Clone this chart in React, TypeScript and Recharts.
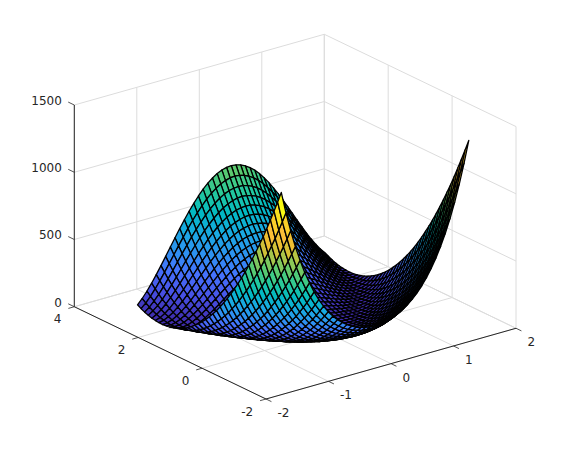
import React from "react";
import { ScatterChart, Scatter, XAxis, YAxis } from "recharts";

const xValues = [-1.5,-1.425,-1.35,-1.275,-1.2,-1.125,-1.05,-0.975,-0.9,-0.825,-0.75,-0.675,-0.6,-0.525,-0.45,-0.375,-0.3,-0.225,-0.15,-0.075,0,0.075,0.15,0.225,0.3,0.375,0.45,0.525,0.6,0.675,0.75,0.825,0.9,0.975,1.05,1.125,1.2,1.275,1.35,1.425,1.5];
const yValues = [-1.5,-1.3875,-1.275,-1.1625,-1.05,-0.9375,-0.825,-0.7125,-0.6,-0.4875,-0.375,-0.2625,-0.15,-0.0375,0.075,0.1875,0.3,0.4125,0.525,0.6375,0.75,0.8625,0.975,1.0875,1.2,1.3125,1.425,1.5375,1.65,1.7625,1.875,1.9875,2.1,2.2125,2.325,2.4375,2.55,2.6625,2.775,2.8875,3];

// surface heights: one row per x value, one column per y value
const zRows = [
[1413,1329,1249,1171,1095,1022,952,884,819,756,695,638,582,530,479,432,387,344,304,266,231,199,169,141,117,94,74,57,42,30,20,13,9,6,7,10,15,23,34,47,63],
[1252,1174,1099,1025,955,887,821,758,698,640,585,532,481,434,388,346,305,268,233,200,170,142,117,95,75,57,43,30,20,13,8,6,6,9,15,22,33,46,61,79,100],
[1109,1036,965,897,831,767,706,648,592,539,488,440,395,352,311,273,237,204,174,146,121,98,77,60,44,32,21,14,9,6,6,8,13,21,31,43,58,76,96,119,144],
[982,913,847,783,721,662,606,552,501,452,406,362,321,282,246,212,181,152,126,103,82,63,48,34,23,15,9,6,5,7,11,18,28,40,54,71,91,113,137,164,194],
[869,804,742,682,625,570,518,468,421,376,334,295,258,223,191,162,135,110,89,69,52,38,26,17,11,6,5,6,9,15,24,35,48,65,83,104,128,154,183,214,248],
[769,708,650,594,541,490,442,396,353,312,274,238,205,174,146,121,98,77,59,44,31,21,13,8,5,5,7,12,19,29,42,57,74,94,117,142,170,200,232,268,305],
[682,624,570,517,468,420,376,334,294,257,223,191,161,134,110,88,69,52,38,26,17,10,6,4,5,9,15,23,34,48,64,83,104,127,154,182,214,248,284,323,364],
[605,551,499,451,404,360,319,281,244,211,180,151,125,102,81,62,46,33,22,14,8,5,4,6,10,17,26,38,53,70,89,111,136,163,193,225,260,297,337,379,424],
[537,487,438,393,350,309,271,235,202,172,144,119,96,75,58,42,30,19,12,7,4,4,6,11,19,29,41,57,74,94,117,142,170,200,233,268,306,347,390,435,483],
[479,431,386,343,303,265,230,197,167,140,115,92,72,55,40,28,18,11,6,4,4,7,12,20,30,43,59,77,97,120,146,174,205,238,274,312,353,396,442,490,541],
[428,383,341,301,263,228,196,166,138,113,91,71,54,39,27,17,10,5,3,4,7,12,20,31,44,59,77,98,121,147,175,206,239,275,314,355,398,444,493,544,597],
[385,342,302,265,229,197,167,139,114,92,72,54,39,27,17,10,5,3,3,6,12,19,30,43,58,76,97,120,145,174,204,237,273,312,352,396,441,490,541,594,650],
[349,308,270,234,201,171,143,118,95,74,57,41,29,18,11,6,3,3,5,10,18,28,40,55,73,93,116,141,169,199,232,267,305,346,389,434,482,533,586,641,699],
[318,279,243,209,178,150,123,100,79,61,45,31,20,12,6,3,2,4,9,15,25,37,51,68,88,110,134,162,191,223,258,295,335,377,422,470,520,572,627,684,744],
[292,255,220,188,159,132,108,86,67,50,36,24,15,8,4,2,3,7,13,21,32,46,62,80,102,125,152,180,212,245,282,321,362,406,453,502,553,607,664,723,785],
[271,235,202,172,144,118,95,75,57,41,29,18,10,5,2,2,5,9,17,27,39,54,72,92,114,139,167,197,230,265,303,343,386,431,479,530,582,638,696,757,820],
[254,220,188,159,132,107,85,66,49,35,23,14,7,3,2,3,6,12,21,32,45,61,80,101,125,151,180,211,245,281,320,362,406,452,501,553,607,663,723,784,848],
[242,208,177,149,123,99,78,60,44,31,20,11,6,2,2,3,8,15,24,36,50,67,87,109,134,161,190,223,257,295,334,377,421,469,519,571,626,684,744,806,871],
[233,200,170,142,116,94,73,55,40,27,17,9,4,2,2,4,9,17,27,39,54,72,92,115,140,168,198,231,266,304,344,387,433,481,531,584,640,698,759,822,888],
[228,195,165,138,113,90,70,53,38,25,16,8,4,1,2,4,10,18,28,41,57,75,95,118,144,172,203,236,272,310,351,394,440,488,539,593,648,707,768,832,898],
[226,194,164,136,111,89,69,52,37,25,15,8,3,1,2,5,10,18,29,42,57,75,96,119,145,173,204,237,273,312,353,396,442,491,542,595,651,710,771,835,901],
[228,195,165,137,112,90,70,52,38,25,15,8,3,1,1,4,10,17,28,41,56,74,95,118,144,172,202,236,271,310,350,394,440,488,539,592,648,707,768,831,897],
[233,199,169,141,116,93,73,55,40,27,17,9,4,1,1,3,9,16,26,38,53,71,91,114,139,167,197,230,265,303,344,387,432,480,531,584,639,697,758,821,887],
[241,207,176,148,122,98,77,59,43,30,19,10,5,1,1,3,7,14,23,35,50,67,86,108,133,160,190,222,256,294,333,376,421,468,518,570,625,683,743,805,870],
[253,219,187,157,130,106,84,65,48,34,22,13,6,2,0,1,5,11,19,30,44,60,79,100,124,150,179,210,244,280,319,360,404,451,500,551,606,662,721,783,847],
[270,234,201,170,142,117,94,73,55,40,27,17,9,4,1,1,3,8,15,25,38,53,70,90,113,138,165,196,228,263,301,342,384,430,478,528,581,636,694,755,818],
[290,253,219,187,157,130,106,84,65,48,34,22,13,6,2,0,1,5,11,19,30,44,60,79,100,124,150,179,210,244,280,319,360,404,451,500,551,605,662,721,783],
[316,277,241,207,176,147,121,98,77,58,42,29,18,10,4,1,0,2,6,13,23,35,49,66,86,108,132,159,189,221,256,293,333,375,420,468,517,570,625,682,742],
[346,306,267,232,199,168,141,115,92,72,54,39,26,16,8,3,1,0,3,8,15,25,38,53,71,91,114,139,167,197,230,265,303,343,386,432,480,530,583,639,697],
[382,340,300,262,227,194,164,136,111,89,69,52,37,24,15,7,2,0,1,3,9,17,27,40,55,73,94,117,143,171,202,235,270,309,350,393,439,487,538,592,647],
[425,380,338,298,260,225,193,163,135,110,88,68,51,36,24,14,7,2,0,1,4,9,17,28,41,56,74,95,118,144,172,203,236,272,311,352,395,441,490,541,594],
[476,428,382,340,300,262,227,194,164,136,111,89,69,52,37,24,15,7,2,0,1,3,9,17,27,40,55,73,94,117,143,171,202,235,270,309,350,393,439,487,538],
[534,483,435,389,346,305,267,232,199,168,140,115,92,72,54,39,26,16,8,3,0,0,3,8,15,25,38,53,71,91,113,139,166,197,230,265,303,343,386,432,480],
[601,547,495,447,400,357,315,277,240,207,176,147,121,98,77,58,42,29,18,10,4,1,0,2,6,13,23,34,49,66,85,108,132,159,189,221,256,293,333,375,420],
[677,620,565,513,463,416,372,329,290,253,218,186,157,130,106,84,64,48,33,22,12,6,2,0,1,4,10,19,30,44,60,78,100,123,149,178,210,243,280,319,360],
[765,704,646,590,536,485,437,391,348,307,269,234,200,170,142,116,93,73,55,40,27,16,9,3,1,0,3,7,15,25,37,52,70,90,112,137,165,195,228,263,301],
[864,800,737,677,620,565,513,463,416,372,329,290,253,218,186,157,130,106,84,64,48,33,22,12,6,2,0,1,4,10,19,30,44,60,78,100,123,149,178,210,243],
[977,908,841,777,716,657,601,547,495,447,400,357,315,277,241,207,176,147,121,98,77,58,42,29,18,10,4,1,0,2,6,13,23,35,49,66,85,108,132,159,189],
[1104,1031,960,891,825,762,701,643,587,534,483,435,389,346,306,267,232,199,169,141,115,92,72,54,39,26,16,8,3,1,0,3,8,15,25,38,53,71,91,114,139],
[1247,1169,1093,1020,949,881,816,753,692,634,579,526,476,428,383,340,300,262,227,194,164,137,112,89,69,52,37,24,15,7,3,0,1,3,9,17,27,40,56,74,94],
[1406,1323,1243,1165,1089,1016,946,878,812,749,689,631,576,523,473,425,380,338,298,260,225,193,163,135,110,88,68,51,36,24,14,7,2,0,1,4,9,17,28,41,56],
];

const xTicks = [-2, -1, 0, 1, 2];
const yTicks = [-2, 0, 2, 4];
const zTicks = [0, 500, 1000, 1500];
const colorStops = ["#3e2aa8","#4751e5","#4672fd","#2d92f0","#1aa9e2","#01b8c3","#24c99d","#57ca72","#9dc750","#e6bd2d","#fcbf38","#f8d621","#f9fb15"];

const WIDTH = 570;
const HEIGHT = 450;
const X_MIN = -2, X_MAX = 2, Y_MIN = -2, Y_MAX = 4, Z_MIN = 0, Z_MAX = 1500;
const Z_LIMIT = 1413;

type Pt = { x: number; y: number };

// orthographic view of the 3-D box, expressed in the chart's plane
function project(x: number, y: number, z: number): Pt {
  return {
    x: 266 + 62.5 * (x - X_MIN) - 31.95 * (y - Y_MIN),
    y: 399 - 17.68 * (x - X_MIN) - 15.38 * (y - Y_MIN) - 0.13447 * z,
  };
}
function nearness(x: number, y: number, z: number) {
  return -0.566 * (x - X_MIN) / 4 - 0.737 * (y - Y_MIN) / 6 + 0.254 * z / 1500;
}
function parula(z: number) {
  const t = Math.min(1, Math.max(0, z / Z_LIMIT)) * (colorStops.length - 1);
  const a = Math.floor(t);
  const b = Math.min(colorStops.length - 1, a + 1);
  const f = t - a;
  const c = (h: string, i: number) => parseInt(h.slice(1 + 2 * i, 3 + 2 * i), 16);
  const m = (i: number) => Math.round(c(colorStops[a], i) * (1 - f) + c(colorStops[b], i) * f);
  return `rgb(${m(0)},${m(1)},${m(2)})`;
}

type Poly = { x: number; y: number; rest: Pt[]; fill?: string; stroke: string; sw: number };

function seg(a: Pt, b: Pt, stroke: string, sw: number): Poly {
  return { x: a.x, y: a.y, rest: [{ x: b.x - a.x, y: b.y - a.y }], stroke, sw };
}

const GRID = "#dcdcdc";
const AXIS = "#262626";

const gridSegs: Poly[] = [];
for (const x of xTicks) {
  gridSegs.push(seg(project(x, Y_MIN, 0), project(x, Y_MAX, 0), GRID, 1));
  gridSegs.push(seg(project(x, Y_MAX, Z_MIN), project(x, Y_MAX, Z_MAX), GRID, 1));
}
for (const y of yTicks) {
  gridSegs.push(seg(project(X_MIN, y, 0), project(X_MAX, y, 0), GRID, 1));
  gridSegs.push(seg(project(X_MAX, y, Z_MIN), project(X_MAX, y, Z_MAX), GRID, 1));
}
for (const z of zTicks) {
  gridSegs.push(seg(project(X_MIN, Y_MAX, z), project(X_MAX, Y_MAX, z), GRID, 1));
  gridSegs.push(seg(project(X_MAX, Y_MAX, z), project(X_MAX, Y_MIN, z), GRID, 1));
}

const axisSegs: Poly[] = [
  seg(project(X_MIN, Y_MAX, Z_MIN), project(X_MIN, Y_MAX, Z_MAX), AXIS, 1),
  seg(project(X_MIN, Y_MIN, 0), project(X_MIN, Y_MAX, 0), AXIS, 1),
  seg(project(X_MIN, Y_MIN, 0), project(X_MAX, Y_MIN, 0), AXIS, 1),
];
for (const x of xTicks) axisSegs.push(seg(project(x, Y_MIN, 0), project(x, Y_MIN - 0.17, 0), AXIS, 0.8));
for (const y of yTicks) axisSegs.push(seg(project(X_MIN, y, 0), project(X_MIN - 0.095, y, 0), AXIS, 0.8));
for (const z of zTicks) axisSegs.push(seg(project(X_MIN, Y_MAX, z), project(X_MIN, Y_MAX + 0.19, z), AXIS, 0.8));

const cells: (Poly & { depth: number })[] = [];
for (let i = 0; i < xValues.length - 1; i++) {
  for (let j = 0; j < yValues.length - 1; j++) {
    const corners: [number, number][] = [[i, j], [i + 1, j], [i + 1, j + 1], [i, j + 1]];
    const pts = corners.map(([a, b]) => project(xValues[a], yValues[b], zRows[a][b]));
    const depth = corners.reduce((s, [a, b]) => s + nearness(xValues[a], yValues[b], zRows[a][b]), 0);
    cells.push({
      x: pts[0].x,
      y: pts[0].y,
      rest: pts.slice(1).map((p) => ({ x: p.x - pts[0].x, y: p.y - pts[0].y })),
      fill: parula(zRows[i][j]),
      stroke: "#000000",
      sw: 1.3,
      depth,
    });
  }
}
cells.sort((a, b) => a.depth - b.depth);

type Lab = { x: number; y: number; text: string; anchor: string };
const labels: Lab[] = [
  ...xTicks.map((t) => {
    const p = project(t, Y_MIN, 0);
    return { x: p.x + 11.5, y: p.y + 14, text: String(t), anchor: "start" };
  }),
  ...yTicks.map((t) => {
    const p = project(X_MIN, t, 0);
    return { x: p.x - 12.8, y: p.y + 12.5, text: String(t), anchor: "end" };
  }),
  ...zTicks.map((t) => {
    const p = project(X_MIN, Y_MAX, t);
    return { x: p.x - 12.5, y: p.y - 4, text: String(t), anchor: "end" };
  }),
];

function PolyShape(props: any) {
  const { cx, cy, payload } = props;
  const p = payload as Poly;
  const d =
    `M${cx},${cy}` +
    p.rest.map((r) => `L${cx + r.x},${cy + r.y}`).join("") +
    (p.fill ? "Z" : "");
  return <path d={d} fill={p.fill ?? "none"} stroke={p.stroke} strokeWidth={p.sw} strokeLinejoin="round" />;
}

function LabelShape(props: any) {
  const { cx, cy, payload } = props;
  return (
    <text x={cx} y={cy} textAnchor={payload.anchor} dominantBaseline="central" fontFamily="DejaVu Sans" fontSize={12} fill={AXIS}>
      {payload.text}
    </text>
  );
}

export default function App() {
  return (
    <div style={{ position: "absolute", left: 0, top: 0, width: WIDTH, height: HEIGHT, background: "#fff" }}>
      <ScatterChart width={WIDTH} height={HEIGHT} margin={{ top: 0, right: 0, bottom: 0, left: 0 }}>
        <XAxis type="number" dataKey="x" domain={[0, WIDTH]} hide />
        <YAxis type="number" dataKey="y" domain={[0, HEIGHT]} reversed hide />
        <Scatter data={gridSegs} shape={PolyShape} isAnimationActive={false} />
        <Scatter data={axisSegs} shape={PolyShape} isAnimationActive={false} />
        <Scatter data={cells} shape={PolyShape} isAnimationActive={false} />
        <Scatter data={labels} shape={LabelShape} isAnimationActive={false} />
      </ScatterChart>
    </div>
  );
}
